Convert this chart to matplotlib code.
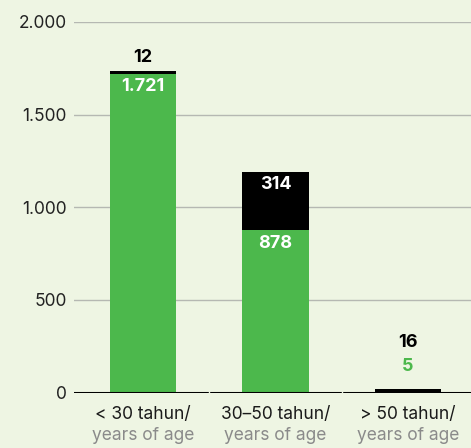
import matplotlib
matplotlib.use("Agg")
import matplotlib.pyplot as plt

categories_id = ["< 30 tahun/", "30–50 tahun/", "> 50 tahun/"]
categories_en = ["years of age", "years of age", "years of age"]
green_values = [1721, 878, 5]
black_values = [12, 314, 16]
yticks = [0, 500, 1000, 1500, 2000]

BG = "#eef5e3"
GREEN = "#4cb84c"
plt.rcParams['font.family'] = ['Inter', 'DejaVu Sans']

def fmt(v):
    return f"{v:,}".replace(",", ".")

fig = plt.figure(figsize=(4.71, 4.48), dpi=100, facecolor=BG)
ax = fig.add_axes([74/471, (448-392.5)/448, 1 - 74/471, (392.5-22)/448])
ax.set_facecolor(BG)

x = list(range(len(categories_id)))
ax.bar(x, green_values, width=0.5, color=GREEN, zorder=2)
ax.bar(x, black_values, width=0.5, bottom=green_values, color="black", zorder=2)

ax.set_xlim(-0.52, 2.475)
ax.set_ylim(0, 2000)
ax.set_yticks(yticks)
ax.set_yticklabels([fmt(v) for v in yticks], fontsize=12.5, color="#222222")
ax.tick_params(axis='y', length=0, pad=5)
ax.yaxis.grid(True, color="#b5b8b2", linewidth=1)
ax.set_axisbelow(True)
for s in ax.spines.values():
    s.set_visible(False)
ax.axhline(0, color="black", linewidth=2.2, zorder=3)
for b in [0.5, 1.5]:
    ax.axvline(b, ymin=-0.01, ymax=0.01, color=BG, linewidth=1, zorder=4, clip_on=False)

ax.set_xticks(x)
ax.set_xticklabels([""] * len(x))
ax.tick_params(axis='x', length=0)
for i in x:
    ax.annotate(categories_id[i], xy=(i, 0), xytext=(0, -15.5), textcoords="offset points",
                ha="center", va="center", fontsize=12.5, color="#1a1a1a")
    ax.annotate(categories_en[i], xy=(i, 0), xytext=(0, -31.3), textcoords="offset points",
                ha="center", va="center", fontsize=12.5, color="#8a8a8a")

LFS = 13
# bar 1: black label above, green label inside
g, b = green_values[0], black_values[0]
ax.annotate(str(b), xy=(0, g + b), xytext=(0, 10), textcoords="offset points",
            ha="center", va="center", fontsize=LFS, fontweight="bold", color="black")
ax.annotate(fmt(g), xy=(0, g), xytext=(0, -9.5), textcoords="offset points",
            ha="center", va="center", fontsize=LFS, fontweight="bold", color="white")
# bar 2: both inside
g, b = green_values[1], black_values[1]
ax.annotate(str(b), xy=(1, g + b), xytext=(0, -9.5), textcoords="offset points",
            ha="center", va="center", fontsize=LFS, fontweight="bold", color="white")
ax.annotate(fmt(g), xy=(1, g), xytext=(0, -9.5), textcoords="offset points",
            ha="center", va="center", fontsize=LFS, fontweight="bold", color="white")
# bar 3: both above
g, b = green_values[2], black_values[2]
ax.annotate(str(b), xy=(2, g + b), xytext=(0, 33), textcoords="offset points",
            ha="center", va="center", fontsize=LFS, fontweight="bold", color="black")
ax.annotate(fmt(g), xy=(2, g + b), xytext=(0, 16), textcoords="offset points",
            ha="center", va="center", fontsize=LFS, fontweight="bold", color=GREEN)

fig.savefig("out.png", dpi=100, facecolor=BG)
